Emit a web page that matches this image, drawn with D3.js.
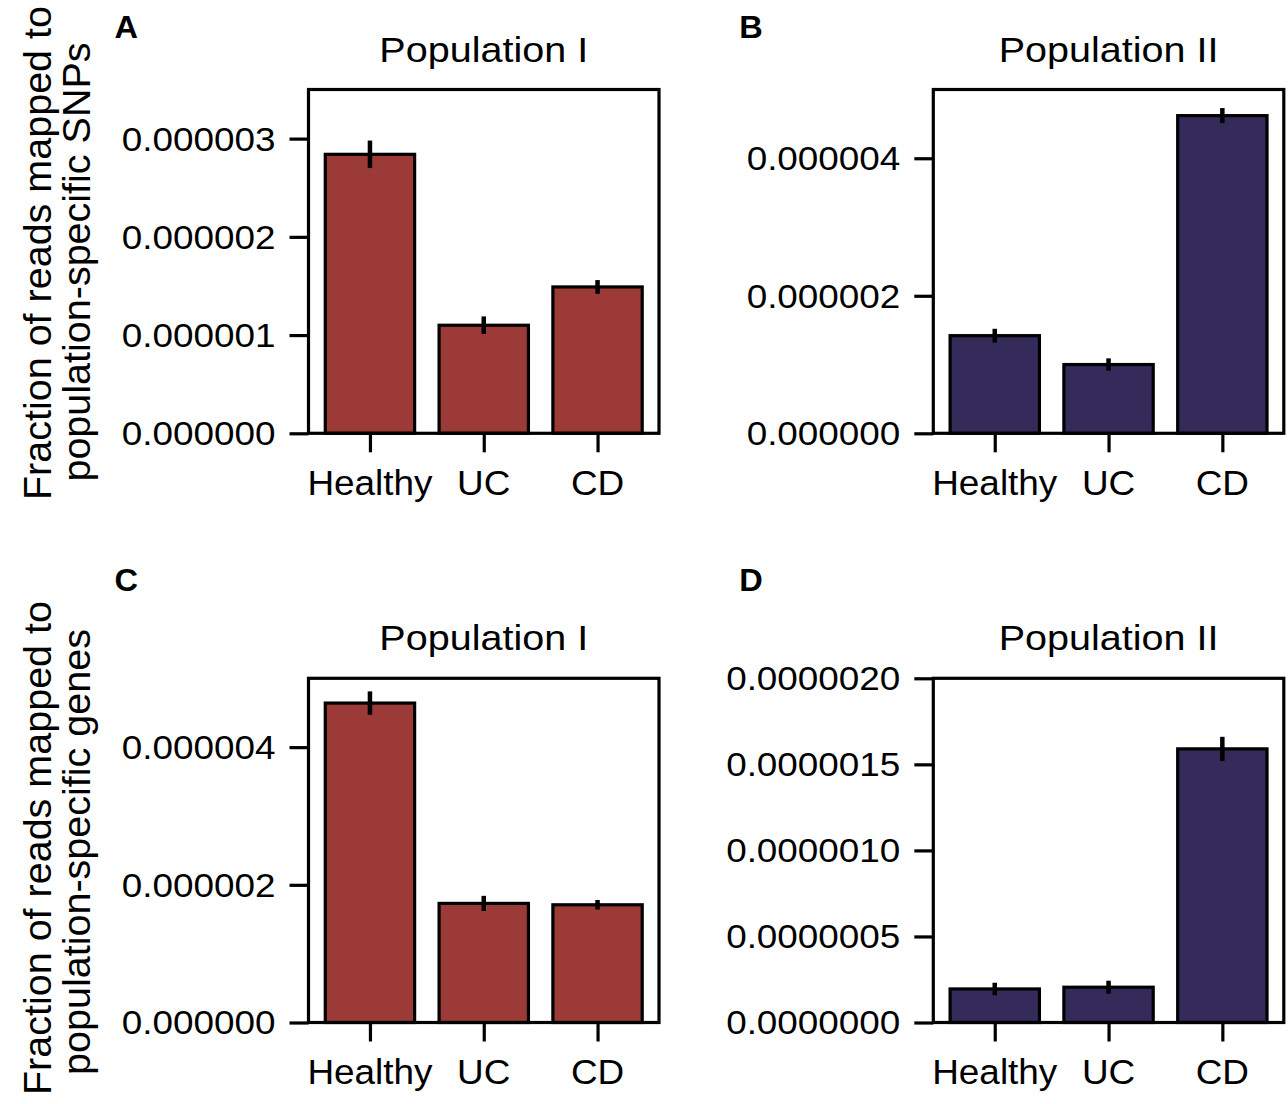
<!DOCTYPE html>
<html>
<head>
<meta charset="utf-8">
<script src="https://cdn.jsdelivr.net/npm/d3@7"></script>
<style>
  html, body { margin: 0; padding: 0; background: #fff; }
  svg { display: block; }
  text { font-family: "Liberation Sans", Arial, Helvetica, sans-serif; fill: #000; }
</style>
</head>
<body>
<svg id="chart" width="1288" height="1104"></svg>
<script>
// ---------- data ----------
const categories = ["Healthy", "UC", "CD"];

const snpPop1    = [2.84e-6, 1.10e-6, 1.49e-6];
const snpPop1Err = [0.14e-6, 0.09e-6, 0.07e-6];

const snpPop2    = [1.42e-6, 1.00e-6, 4.62e-6];
const snpPop2Err = [0.10e-6, 0.09e-6, 0.11e-6];

const genePop1    = [4.64e-6, 1.73e-6, 1.71e-6];
const genePop1Err = [0.17e-6, 0.11e-6, 0.07e-6];

const genePop2    = [0.195e-6, 0.205e-6, 1.59e-6];
const genePop2Err = [0.036e-6, 0.038e-6, 0.07e-6];

const ticksA = [0, 1e-6, 2e-6, 3e-6];
const ticksB = [0, 2e-6, 4e-6];
const ticksC = [0, 2e-6, 4e-6];
const ticksD = [0, 0.5e-6, 1e-6, 1.5e-6, 2e-6];

const panelLetters = ["A", "B", "C", "D"];
const panelTitles = ["Population I", "Population II", "Population I", "Population II"];
const yLabelTop = ["Fraction of reads mapped to", "population-specific SNPs"];
const yLabelBottom = ["Fraction of reads mapped to", "population-specific genes"];

// ---------- layout ----------
const RED = "#9c3a37";
const NAVY = "#352b5a";
const SX = 1.13; // horizontal stretch of the reference figure

const svg = d3.select("#chart");

function txt(g, x, y, s, size, anchor, opts = {}) {
  const t = g.append("text")
    .attr("transform", `translate(${x},${y}) scale(${opts.sx || SX},1)`)
    .attr("text-anchor", anchor)
    .attr("font-size", size)
    .text(s);
  if (opts.weight) t.attr("font-weight", opts.weight);
  if (opts.dy) t.attr("dy", opts.dy);
  return t;
}

const panels = [
  { vals: snpPop1, errs: snpPop1Err, ticks: ticksA, ymax: 3.5e-6, dec: 6, color: RED,  x0: 308.5, y0: 89.5,  y1: 433.3 },
  { vals: snpPop2, errs: snpPop2Err, ticks: ticksB, ymax: 5e-6,   dec: 6, color: NAVY, x0: 933.3, y0: 89.5,  y1: 433.3 },
  { vals: genePop1, errs: genePop1Err, ticks: ticksC, ymax: 5e-6, dec: 6, color: RED,  x0: 308.5, y0: 678.3, y1: 1022.5 },
  { vals: genePop2, errs: genePop2Err, ticks: ticksD, ymax: 2e-6, dec: 7, color: NAVY, x0: 933.3, y0: 678.3, y1: 1022.5 }
];
const axW = 350.5;
const tickLen = 19;
const LW = 3.2;

panels.forEach((p, i) => {
  const g = svg.append("g");
  const x = d3.scaleLinear().domain([-0.54, 2.54]).range([p.x0, p.x0 + axW]);
  const y = d3.scaleLinear().domain([0, p.ymax]).range([p.y1, p.y0]);
  const step = x(1) - x(0);
  const bw = step * 0.785;

  // bars
  g.selectAll("rect.bar").data(categories).enter().append("rect")
    .attr("class", "bar")
    .attr("x", (d, k) => x(k) - bw / 2)
    .attr("width", bw)
    .attr("y", (d, k) => y(p.vals[k]))
    .attr("height", (d, k) => y(0) - y(p.vals[k]))
    .attr("fill", p.color)
    .attr("stroke", "#000")
    .attr("stroke-width", LW);

  // error bars
  g.selectAll("line.err").data(categories).enter().append("line")
    .attr("x1", (d, k) => x(k)).attr("x2", (d, k) => x(k))
    .attr("y1", (d, k) => y(p.vals[k] - p.errs[k]))
    .attr("y2", (d, k) => y(p.vals[k] + p.errs[k]))
    .attr("stroke", "#000").attr("stroke-width", 4.5);

  // y axis
  const yAxis = d3.axisLeft(y).tickValues(p.ticks).tickSize(tickLen).tickPadding(14.5)
    .tickFormat(d => d.toFixed(p.dec));
  const ya = g.append("g").attr("transform", `translate(${p.x0},0)`).call(yAxis);
  ya.select(".domain").remove();
  ya.selectAll(".tick line").attr("stroke", "#000").attr("stroke-width", LW);
  ya.selectAll(".tick text").remove();
  p.ticks.forEach(t => {
    txt(g, p.x0 - tickLen - 14, y(t), t.toFixed(p.dec), 33.5, "end", { dy: "0.355em", sx: 1.1 });
  });

  // x axis
  const xAxis = d3.axisBottom(x).tickValues([0, 1, 2]).tickSize(tickLen).tickFormat("");
  const xa = g.append("g").attr("transform", `translate(0,${p.y1})`).call(xAxis);
  xa.select(".domain").remove();
  xa.selectAll(".tick line").attr("stroke", "#000").attr("stroke-width", LW);
  categories.forEach((c, k) => {
    txt(g, x(k), p.y1 + 61.5, c, 35.5, "middle", { sx: 1.04 });
  });

  // frame
  g.append("rect")
    .attr("x", p.x0).attr("y", p.y0)
    .attr("width", axW).attr("height", p.y1 - p.y0)
    .attr("fill", "none").attr("stroke", "#000").attr("stroke-width", LW);

  // title
  txt(g, p.x0 + axW / 2, p.y0 - 28, panelTitles[i], 35, "middle");

  // panel letter
  txt(g, p.x0 - 194, i < 2 ? 38 : 591, panelLetters[i], 31, "start", { weight: "bold", sx: 1.05 });
});

// y labels
function yLabel(lines, cys) {
  const xs = [51, 90];
  lines.forEach((s, k) => {
    svg.append("text")
      .attr("transform", `translate(${xs[k]},${cys[k]}) rotate(-90)`)
      .attr("text-anchor", "middle")
      .attr("font-size", 39.5)
      .text(s);
  });
}
yLabel(yLabelTop, [253, 262]);
yLabel(yLabelBottom, [848, 852]);
</script>
</body>
</html>
